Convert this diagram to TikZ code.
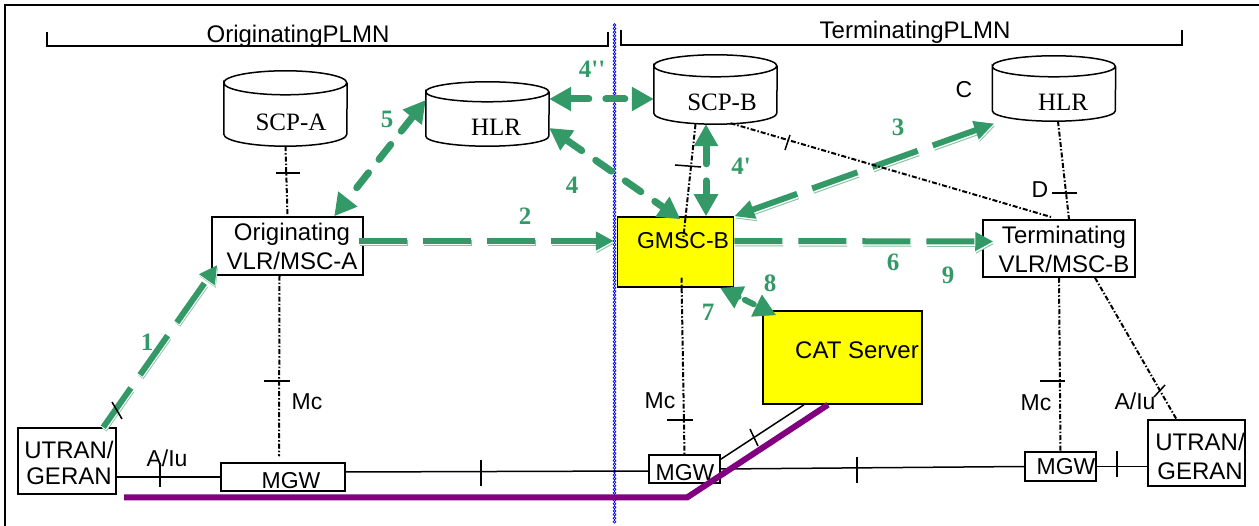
\documentclass[tikz,border=0pt]{standalone}
\usepackage{fontspec}
\setmainfont{Liberation Serif}
\setsansfont{Liberation Sans}
\newfontfamily\flowfont{Liberation Serif}
\usetikzlibrary{arrows.meta}
\definecolor{flowgreen}{HTML}{339966}
\definecolor{trunkpurple}{HTML}{800080}
\definecolor{serveryellow}{RGB}{255,255,0}
\definecolor{borderblue}{RGB}{0,0,255}
\tikzset{
    boxnode/.style={draw, line width=1.5pt, inner sep=0pt, fill=white},
    servernode/.style={boxnode, fill=serveryellow},
    dbnode/.style={inner sep=0pt, minimum width=123pt},
    sanstext/.style={font=\sffamily\fontsize{23}{25}\selectfont, inner sep=0pt, align=center},
    bigsans/.style={font=\sffamily\fontsize{24}{26}\selectfont, inner sep=0pt, align=center},
    serftext/.style={font=\rmfamily\fontsize{25}{27}\selectfont, inner sep=0pt},
    flownum/.style={font=\flowfont\bfseries\fontsize{25}{27}\selectfont, inner sep=0pt, text=flowgreen},
    sigline/.style={line width=2pt, dash pattern=on 5pt off 2pt on 1.5pt off 2pt},
    bearer/.style={line width=1.5pt},
    tickmark/.style={line width=1.5pt},
    roundflow/.style={flowgreen, line width=7pt, line cap=round, dash pattern=on 19pt off 17pt},
    headone/.style={-{Triangle[length=18pt, width=18pt]}},
    headtwo/.style={{Triangle[length=20pt, width=18pt]}-{Triangle[length=20pt, width=18pt]}},
    edgeflow/.style={flowgreen, line width=6pt, dash pattern=on 48pt off 16pt, #1,
        preaction={draw, #1, flowgreen!60, line width=6pt, dash pattern=on 48pt off 16pt, transform canvas={shift={(0.9,2.4)}}},
        preaction={draw, #1, white, line width=6pt, dash pattern=on 48pt off 16pt, transform canvas={shift={(0.5,1.4)}}}},
}
% outline of a database drum round a named node: name, depth of the caps
\newcommand{\drawdrum}[2]{
    \draw[line width=1.5pt] ([yshift=-#2pt]#1.north west)
        arc[start angle=180, end angle=-180, x radius=61.5pt, y radius=#2pt]
        -- ([yshift=#2pt]#1.south west)
        arc[start angle=180, end angle=360, x radius=61.5pt, y radius=#2pt]
        -- ([yshift=-#2pt]#1.north east);
}
\begin{document}
\begin{tikzpicture}[x=1pt, y=-1pt, >={Triangle[length=22pt, width=23pt]}]
    \useasboundingbox (0,0) rectangle (1259,526);

    % frame and the two brackets
    \coordinate (frameA) at (5,526);
    \coordinate (frameB) at (5,5);
    \coordinate (frameC) at (1259,5);
    \draw[line width=1.4pt] (frameA) -- (frameB) -- (frameC);
    \coordinate (brA) at (47,32);
    \coordinate (brB) at (47,46);
    \coordinate (brC) at (608,46);
    \coordinate (brD) at (608,32);
    \draw[line width=1.5pt] (brA) -- (brB) -- (brC) -- (brD);
    \coordinate (brE) at (621,30);
    \coordinate (brF) at (621,45);
    \coordinate (brG) at (1182,45);
    \coordinate (brH) at (1182,30);
    \draw[line width=1.5pt] (brE) -- (brF) -- (brG) -- (brH);
    \node[bigsans] (origplmn) at (298,36) {OriginatingPLMN};
    \node[bigsans] (termplmn) at (915,32) {TerminatingPLMN};

    % databases
    \node[dbnode, minimum height=75pt] (scpa) at (285.5,108.5) {};
    \node[dbnode, minimum height=64pt] (hlra) at (487.5,114) {};
    \node[dbnode, minimum height=69pt] (scpb) at (715.5,89.5) {};
    \node[dbnode, minimum height=65pt] (hlrb) at (1054,88.5) {};
    \drawdrum{scpa}{12}
    \drawdrum{hlra}{10}
    \drawdrum{scpb}{11}
    \drawdrum{hlrb}{10.5}
    \node[serftext] (scpatxt) at (291,122) {SCP-A};
    \node[serftext] (hlratxt) at (496,127) {HLR};
    \node[serftext] (scpbtxt) at (722,102) {SCP-B};
    \node[serftext] (hlrbtxt) at (1063,102) {HLR};

    % boxes
    \node[boxnode, minimum width=151pt, minimum height=58pt] (orig) at (287.5,246) {};
    \node[servernode, minimum width=116pt, minimum height=70pt] (gmsc) at (675.5,252) {};
    \node[boxnode, minimum width=152pt, minimum height=57pt] (term) at (1059,248.5) {};
    \node[servernode, minimum width=159pt, minimum height=93pt] (cat) at (842.5,357.5) {};
    \node[boxnode, minimum width=98pt, minimum height=66pt] (utrana) at (67,461) {};
    \node[boxnode, minimum width=97pt, minimum height=66pt] (utranb) at (1196.5,453) {};
    \node[boxnode, minimum width=124pt, minimum height=28pt] (mgwa) at (283,477) {};
    \node[boxnode, minimum width=71pt, minimum height=28pt] (mgwm) at (684.5,469) {};
    \node[boxnode, minimum width=71pt, minimum height=29pt] (mgwb) at (1060.5,466.5) {};

    \node[bigsans] (origtxt) at (292,246) {Originating\\[3pt]VLR/MSC-A};
    \node[sanstext] (gmsctxt) at (683,241) {GMSC-B};
    \node[bigsans] (termtxt) at (1064,249) {Terminating\\[3pt]VLR/MSC-B};
    \node[bigsans] (cattxt) at (857,350) {CAT Server};
    \node[bigsans] (utranatxt) at (69,463) {UTRAN/\\GERAN};
    \node[bigsans] (utranbtxt) at (1200,456) {UTRAN/\\[3pt]GERAN};
    \node[sanstext] (mgwatxt) at (291,481) {MGW};
    \node[sanstext] (mgwmtxt) at (685,473) {MGW};
    \node[sanstext] (mgwbtxt) at (1066,467) {MGW};

    % interface labels
    \node[sanstext] (clabel) at (964,90) {C};
    \node[sanstext] (dlabel) at (1040,190) {D};
    \node[sanstext] (mcaa) at (307,402) {Mc};
    \node[sanstext] (mcam) at (660,401) {Mc};
    \node[sanstext] (mcab) at (1036,403) {Mc};
    \node[sanstext] (iua) at (167,458) {A/Iu};
    \node[sanstext] (iub) at (1135,401) {A/Iu};

    % border between the networks
    \coordinate (borderA) at (614.5,25);
    \coordinate (borderB) at (614.5,522);
    \draw[borderblue, line width=3.8pt, line cap=round, dash pattern=on 0pt off 3.6pt,
        postaction={draw, white, line width=1.2pt}] (borderA) -- (borderB);

    % bearers
    \draw[bearer] (mgwa.west) -- (mgwa.west -| utrana.east);
    \draw[bearer] ([yshift=5pt]mgwa.east) -- ([yshift=-2pt]mgwm.west);
    \draw[bearer] (mgwm.east) -- (mgwb.west);
    \draw[bearer] (mgwb.east) -- (mgwb.east -| utranb.west);
    \draw[bearer] ([yshift=-5pt]mgwm.north east) -- ([xshift=-38.5pt]cat.south);

    % purple trunk
    \coordinate (trunkA) at (124,497.5);
    \coordinate (trunkB) at (687,497.5);
    \draw[trunkpurple, line width=6pt] (trunkA) -- (trunkB) -- ([xshift=-14.5pt]cat.south);

    % flows
    \draw[edgeflow=headone] ([xshift=86pt]utrana.north west) -- ([xshift=6pt,yshift=-19pt]orig.west);
    \draw[edgeflow=headone] ([xshift=-5pt,yshift=5pt]orig.east) -- ([xshift=-3pt,yshift=11pt]gmsc.west);
    \draw[edgeflow=headone] ([yshift=11pt]gmsc.east) -- ([xshift=11pt,yshift=7pt]term.west);
    \draw[edgeflow=headtwo] (gmsc.north east) -- ([xshift=2pt,yshift=-35pt]hlrb.west);
    \draw[roundflow, <->] ([yshift=15pt]hlra.east) -- ([yshift=-9.5pt]scpb.west);
    \draw[roundflow, <->] ([yshift=14pt]hlra.west) -- ([xshift=123pt]orig.north west);
    \draw[roundflow, <->] ([yshift=-14pt]hlra.east) -- ([xshift=5pt,yshift=-3pt]gmsc.north);
    \draw[roundflow, <->] ([xshift=-9.5pt]scpb.south) -- ([xshift=30.5pt]gmsc.north);
    \draw[roundflow, <->, line width=6pt, dash pattern=on 0pt off 7pt on 10pt off 20pt] ([xshift=44.5pt]gmsc.south) -- ([xshift=14pt,yshift=-5pt]cat.north west);

    % signalling links
    \draw[sigline] (scpa.south) -- (orig.north);
    \draw[sigline] ([xshift=-20pt]scpb.south) -- (gmsctxt.center);
    \draw[sigline] ([xshift=6pt,yshift=10pt]gmsc.south) -- (mgwm.north);
    \draw[sigline] ([xshift=15pt,yshift=1pt]scpb.south) -- ([xshift=-7pt,yshift=2pt]term.north);
    \draw[sigline] ([xshift=4pt]hlrb.south) -- ([xshift=10pt]term.north);
    \draw[sigline, shorten >=6pt] ([xshift=-8pt]orig.south) -- ([xshift=-4pt]mgwa.north);
    \draw[sigline] (term.south) -- (mgwb.north);
    \draw[sigline] ([xshift=36pt]term.south) -- ([xshift=-20pt]utranb.north);

    % ticks on the links
    \draw[tickmark] (288,173) +(-12,0) -- +(12,0);
    \draw[tickmark] (688,166) +(-13,-1) -- +(13,1);
    \draw[tickmark] (787,143) +(3,-8) -- +(-2,7);
    \draw[tickmark] (1065,193) +(-13,0) -- +(12,0);
    \draw[tickmark] (277,381) +(-13,0) -- +(13,0);
    \draw[tickmark] (680,420) +(-13,0) -- +(13,0);
    \draw[tickmark] (1052,381) +(-12,0) -- +(13,0);
    \draw[tickmark] (160,475) +(0,-12) -- +(0,12);
    \draw[tickmark] (481,473) +(0,-13) -- +(0,13);
    \draw[tickmark] (857,470) +(0,-13) -- +(0,13);
    \draw[tickmark] (1117,464) +(0,-13) -- +(0,13);
    \draw[tickmark] (754,437) +(-4,-8) -- +(4,9);
    \draw[tickmark] (1160,391) +(5,-6) -- +(-6,6);
    \draw[tickmark] (117,410) +(-5,-8) -- +(5,9);

    % flow numbers
    \node[flownum] (num1) at (147,342) {1};
    \node[flownum] (num2) at (525,216) {2};
    \node[flownum] (num3) at (898,127) {3};
    \node[flownum] (num4) at (572,185) {4};
    \node[flownum] (num4a) at (741,166) {4'};
    \node[flownum] (num4b) at (592,69) {4''};
    \node[flownum] (num5) at (387,119) {5};
    \node[flownum] (num6) at (893,262) {6};
    \node[flownum] (num7) at (708,312) {7};
    \node[flownum] (num8) at (770,283) {8};
    \node[flownum] (num9) at (948,275) {9};
\end{tikzpicture}
\end{document}
